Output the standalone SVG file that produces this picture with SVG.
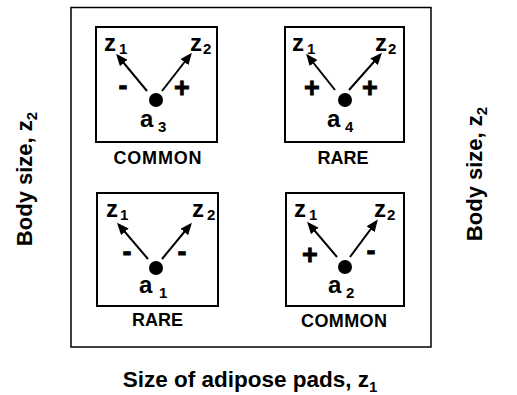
<svg xmlns="http://www.w3.org/2000/svg" width="517" height="395" viewBox="0 0 517 395">
  <style>
    text { font-family: "Liberation Sans", Arial, Helvetica, sans-serif; font-weight: bold; fill: #000; }
    .frame { fill: none; stroke: #000; stroke-width: 1.5; }
    .panel { fill: #fff; stroke: #000; stroke-width: 2; }
    .big { font-size: 24px; }
    .sub { font-size: 15px; }
    .sign { font-size: 27px; text-anchor: middle; stroke: #000; stroke-width: 0.8; }
    .tag { font-size: 18px; text-anchor: middle; }
    .axis { font-size: 22px; text-anchor: middle; }
    .arrow { stroke: #000; stroke-width: 2; fill: none; marker-end: url(#head); }
  </style>
  <defs>
    <marker id="head" markerUnits="userSpaceOnUse" markerWidth="12" markerHeight="10" refX="9" refY="5" orient="auto">
      <path d="M0,0 L12,5 L0,10 z" fill="#000"/>
    </marker>
  </defs>

  <rect width="517" height="395" fill="#fff"/>

  <!-- outer frame -->
  <rect id="frame" class="frame" x="71" y="7.5" width="360" height="339.5"/>

  <!-- axis labels -->
  <g id="axis-left">
    <text class="axis" transform="translate(32,179) rotate(-90)">Body size, z<tspan class="sub" dy="5">2</tspan></text>
  </g>
  <g id="axis-right">
    <text class="axis" transform="translate(482,174) rotate(-90)">Body size, z<tspan class="sub" dy="5">2</tspan></text>
  </g>
  <g id="axis-bottom">
    <text class="axis" x="250" y="387" style="font-size:22.5px">Size of adipose pads, z<tspan class="sub" dy="5">1</tspan></text>
  </g>

  <!-- panel a3 : top left -->
  <g id="panel-a3">
    <rect class="panel" x="96" y="27" width="121" height="115"/>
    <circle cx="156" cy="100" r="7"/>
    <text class="big" x="104" y="51">z</text><text class="sub" x="119" y="54">1</text>
    <text class="big" x="190" y="51">z</text><text class="sub" x="203" y="54">2</text>
    <text class="sign" x="123" y="95">-</text>
    <text class="sign" x="182" y="97">+</text>
    <text class="big" x="140" y="127">a</text><text class="sub" x="158" y="132">3</text>
    <text class="tag" x="157.5" y="164" textLength="88" lengthAdjust="spacing">COMMON</text>
  </g>

  <!-- panel a4 : top right -->
  <g id="panel-a4">
    <rect class="panel" x="285" y="27" width="119" height="115"/>
    <circle cx="345" cy="100" r="7"/>
    <text class="big" x="292" y="51">z</text><text class="sub" x="307" y="54">1</text>
    <text class="big" x="375" y="51">z</text><text class="sub" x="388" y="54">2</text>
    <text class="sign" x="312" y="97">+</text>
    <text class="sign" x="370" y="97">+</text>
    <text class="big" x="327" y="127">a</text><text class="sub" x="345" y="132">4</text>
    <text class="tag" x="343" y="164">RARE</text>
  </g>

  <!-- panel a1 : bottom left -->
  <g id="panel-a1">
    <rect class="panel" x="97" y="193" width="121" height="113"/>
    <circle cx="156" cy="268" r="7"/>
    <text class="big" x="106" y="217">z</text><text class="sub" x="120" y="220">1</text>
    <text class="big" x="192" y="217">z</text><text class="sub" x="207" y="220">2</text>
    <text class="sign" x="127" y="261">-</text>
    <text class="sign" x="182" y="261">-</text>
    <text class="big" x="139" y="293">a</text><text class="sub" x="159" y="298">1</text>
    <text class="tag" x="157.5" y="326">RARE</text>
  </g>

  <!-- panel a2 : bottom right -->
  <g id="panel-a2">
    <rect class="panel" x="286" y="193" width="118" height="113"/>
    <circle cx="345" cy="267" r="7"/>
    <text class="big" x="294" y="217">z</text><text class="sub" x="309" y="220">1</text>
    <text class="big" x="374" y="217">z</text><text class="sub" x="387" y="220">2</text>
    <text class="sign" x="310" y="264">+</text>
    <text class="sign" x="371" y="260">-</text>
    <text class="big" x="328" y="293">a</text><text class="sub" x="346" y="298">2</text>
    <text class="tag" x="344" y="327" textLength="86" lengthAdjust="spacing">COMMON</text>
  </g>

  <!-- arrows from each dot to z1 and z2 -->
  <g id="connectors">
    <line class="arrow" x1="147" y1="91" x2="118" y2="56"/>
    <line class="arrow" x1="162" y1="91" x2="190" y2="55"/>
    <line class="arrow" x1="335" y1="90" x2="308" y2="56"/>
    <line class="arrow" x1="349" y1="90" x2="380" y2="55"/>
    <line class="arrow" x1="148" y1="259" x2="119" y2="225"/>
    <line class="arrow" x1="162" y1="259" x2="190" y2="225"/>
    <line class="arrow" x1="337" y1="257" x2="309" y2="224"/>
    <line class="arrow" x1="350" y1="257" x2="376" y2="222"/>
  </g>
</svg>
